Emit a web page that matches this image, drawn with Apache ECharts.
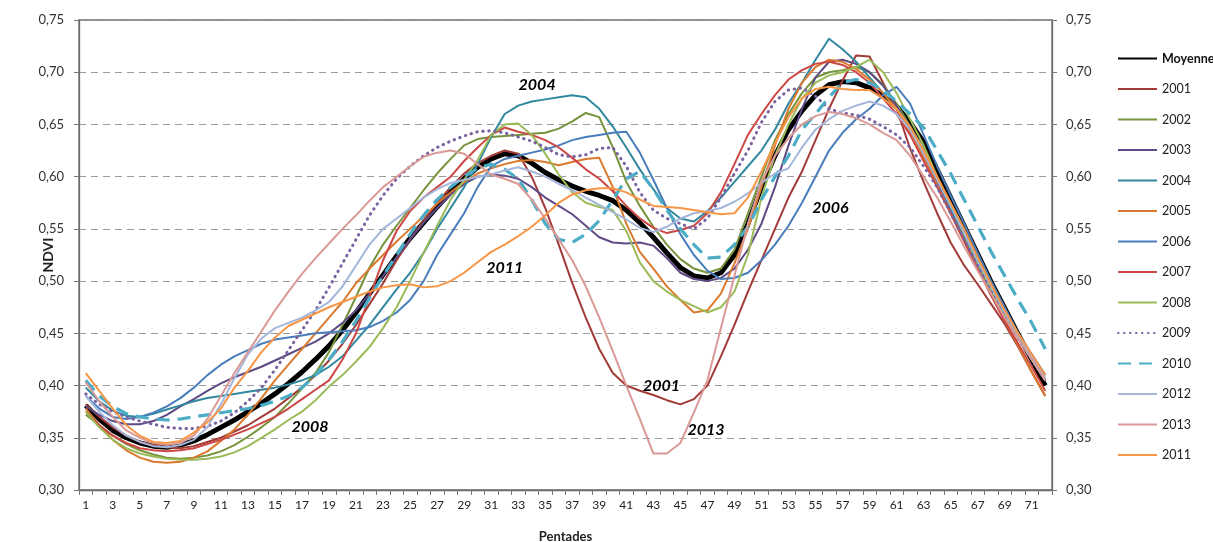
<!DOCTYPE html>
<html><head><meta charset="utf-8">
<script src="https://cdn.jsdelivr.net/npm/echarts@6/dist/echarts.min.js"></script>
<style>html,body{margin:0;padding:0;background:#fff}#c{width:1213px;height:542px}</style>
</head><body><div id="c"></div>
<script>
const pentades = ['1','2','3','4','5','6','7','8','9','10','11','12','13','14','15','16','17','18','19','20','21','22','23','24','25','26','27','28','29','30','31','32','33','34','35','36','37','38','39','40','41','42','43','44','45','46','47','48','49','50','51','52','53','54','55','56','57','58','59','60','61','62','63','64','65','66','67','68','69','70','71','72'];
const yTicks = [0.30,0.35,0.40,0.45,0.50,0.55,0.60,0.65,0.70,0.75];

const moyenne = [.381,.368,.357,.350,.345,.342,.341,.343,.347,.353,.360,.367,.375,.383,.392,.402,.413,.425,.438,.453,.470,.488,.506,.524,.541,.556,.571,.585,.598,.609,.617,.622,.620,.613,.604,.597,.591,.586,.582,.577,.568,.556,.542,.527,.513,.505,.503,.508,.525,.555,.590,.620,.645,.663,.678,.688,.691,.690,.685,.677,.667,.652,.633,.607,.580,.553,.526,.499,.474,.449,.425,.400];
const y2001 = [.382,.370,.360,.352,.346,.343,.341,.340,.342,.346,.350,.356,.362,.370,.378,.388,.398,.410,.424,.440,.458,.478,.498,.520,.540,.558,.575,.590,.603,.613,.620,.625,.622,.600,.570,.535,.498,.465,.435,.412,.400,.395,.391,.386,.382,.387,.400,.428,.458,.490,.520,.550,.580,.605,.635,.665,.692,.716,.715,.690,.665,.627,.595,.565,.537,.515,.497,.478,.459,.437,.413,.390];
const y2002 = [.372,.362,.352,.344,.338,.334,.331,.330,.331,.333,.337,.343,.351,.360,.370,.383,.397,.412,.432,.458,.485,.513,.535,.553,.570,.587,.603,.617,.630,.636,.638,.639,.640,.641,.642,.646,.653,.661,.657,.628,.595,.572,.552,.535,.521,.512,.508,.512,.530,.565,.600,.635,.660,.680,.695,.700,.702,.705,.700,.688,.670,.648,.623,.597,.570,.543,.517,.492,.467,.445,.425,.405];
const y2003 = [.380,.372,.366,.363,.363,.366,.372,.380,.387,.395,.402,.408,.413,.418,.424,.430,.436,.442,.450,.460,.472,.488,.505,.523,.540,.556,.570,.583,.593,.600,.602,.601,.598,.590,.580,.572,.564,.553,.542,.537,.536,.537,.534,.522,.508,.502,.500,.503,.512,.530,.555,.590,.630,.665,.695,.710,.712,.708,.700,.687,.668,.645,.620,.595,.568,.542,.517,.492,.468,.448,.430,.410];
const y2004 = [.398,.385,.376,.371,.370,.373,.377,.381,.385,.388,.390,.392,.394,.396,.398,.401,.405,.410,.418,.428,.443,.458,.475,.492,.508,.527,.550,.570,.590,.612,.638,.660,.668,.672,.674,.676,.678,.676,.665,.648,.628,.607,.588,.570,.560,.557,.567,.580,.595,.610,.625,.645,.670,.690,.712,.732,.722,.710,.695,.680,.665,.648,.625,.598,.570,.543,.517,.490,.466,.445,.425,.405];
const y2005 = [.378,.362,.348,.338,.331,.327,.326,.327,.331,.337,.347,.358,.372,.388,.405,.420,.435,.450,.465,.480,.498,.512,.525,.538,.550,.562,.574,.585,.595,.603,.608,.612,.615,.616,.614,.611,.614,.617,.618,.590,.555,.528,.512,.495,.482,.470,.472,.488,.517,.550,.590,.630,.665,.690,.705,.712,.710,.703,.693,.680,.665,.643,.618,.592,.565,.538,.512,.487,.462,.438,.413,.390];
const y2006 = [.390,.378,.370,.368,.370,.374,.380,.388,.398,.410,.420,.428,.434,.440,.444,.446,.448,.450,.451,.452,.453,.456,.462,.470,.482,.500,.525,.545,.565,.590,.610,.617,.620,.623,.626,.630,.635,.638,.640,.642,.643,.623,.597,.570,.545,.525,.510,.502,.503,.508,.520,.535,.553,.575,.600,.625,.642,.655,.665,.678,.686,.670,.640,.610,.582,.555,.527,.500,.475,.450,.430,.410];
const y2007 = [.375,.362,.352,.345,.340,.338,.337,.338,.340,.344,.348,.353,.358,.364,.370,.378,.387,.396,.405,.425,.450,.485,.520,.548,.567,.580,.590,.600,.615,.628,.640,.647,.643,.640,.635,.628,.618,.607,.598,.586,.572,.560,.551,.546,.549,.553,.565,.585,.612,.640,.660,.678,.693,.702,.708,.710,.707,.700,.690,.675,.660,.640,.615,.590,.565,.538,.512,.486,.462,.440,.418,.395];
const y2008 = [.375,.360,.348,.340,.335,.332,.330,.329,.329,.330,.332,.336,.342,.350,.358,.367,.375,.386,.399,.410,.423,.437,.455,.475,.500,.527,.553,.578,.597,.616,.640,.650,.651,.640,.622,.602,.585,.575,.571,.568,.548,.518,.500,.490,.482,.476,.470,.475,.490,.525,.580,.620,.650,.675,.690,.697,.700,.705,.712,.700,.680,.655,.630,.600,.573,.545,.518,.492,.467,.445,.425,.405];
const y2009 = [.392,.382,.375,.370,.366,.363,.360,.359,.359,.361,.366,.374,.385,.398,.415,.434,.453,.472,.494,.517,.540,.563,.582,.598,.610,.620,.628,.634,.639,.643,.644,.642,.638,.634,.628,.621,.619,.621,.627,.628,.610,.585,.568,.560,.555,.550,.560,.580,.603,.625,.652,.672,.683,.685,.677,.665,.661,.659,.655,.648,.640,.628,.610,.590,.565,.540,.515,.490,.467,.445,.425,.405];
const y2010 = [.405,.390,.380,.373,.370,.368,.367,.368,.370,.372,.374,.376,.378,.381,.385,.390,.398,.410,.425,.442,.462,.484,.505,.525,.545,.563,.578,.590,.600,.608,.612,.607,.598,.578,.555,.540,.537,.545,.558,.578,.598,.605,.588,.568,.550,.535,.522,.523,.535,.552,.578,.600,.620,.645,.660,.676,.690,.693,.690,.683,.672,.660,.647,.625,.603,.578,.553,.528,.505,.482,.460,.435];
const y2012 = [.390,.375,.362,.352,.346,.342,.341,.343,.348,.360,.382,.407,.430,.445,.455,.460,.465,.472,.480,.495,.515,.535,.550,.560,.570,.580,.588,.594,.597,.600,.602,.606,.609,.605,.600,.593,.587,.580,.573,.566,.559,.551,.547,.552,.560,.565,.567,.570,.576,.584,.594,.603,.608,.628,.645,.655,.663,.668,.672,.668,.660,.645,.622,.597,.572,.546,.520,.495,.470,.448,.428,.408];
const y2013 = [.403,.385,.370,.357,.350,.345,.343,.345,.352,.368,.390,.412,.432,.452,.472,.490,.507,.522,.536,.550,.563,.577,.590,.600,.610,.619,.623,.625,.622,.612,.602,.598,.593,.578,.560,.540,.520,.495,.465,.433,.400,.368,.335,.335,.345,.374,.405,.455,.505,.555,.595,.620,.637,.650,.658,.662,.660,.656,.650,.642,.635,.620,.600,.580,.557,.533,.510,.488,.465,.445,.425,.405];
const y2011 = [.412,.395,.378,.362,.352,.346,.345,.347,.355,.365,.378,.398,.414,.432,.446,.457,.463,.469,.475,.480,.485,.490,.494,.496,.497,.494,.495,.500,.508,.518,.528,.535,.543,.552,.563,.575,.583,.587,.589,.589,.585,.578,.572,.571,.570,.568,.566,.564,.565,.580,.605,.632,.657,.675,.684,.686,.684,.683,.683,.675,.665,.648,.625,.600,.575,.550,.523,.497,.472,.450,.430,.410];

const seriesNames = ['Moyenne','2001','2002','2003','2004','2005','2006','2007','2008','2009','2010','2012','2013','2011'];
const seriesValues = [moyenne,y2001,y2002,y2003,y2004,y2005,y2006,y2007,y2008,y2009,y2010,y2012,y2013,y2011];

// annotation texts anchored in data space (pentade, NDVI)
const annotText = ['2004','2011','2006','2001','2013','2008'];
const annotPentade = [34.4, 32.0, 56.1, 43.6, 46.9, 17.6];
const annotNdvi = [0.688, 0.513, 0.570, 0.400, 0.358, 0.360];

const styles = {
  'Moyenne':{color:'#000000', width:5, type:'solid'},
  '2001':{color:'#A23B38', width:2, type:'solid'},
  '2002':{color:'#77933C', width:2, type:'solid'},
  '2003':{color:'#5F4A85', width:2, type:'solid'},
  '2004':{color:'#31889F', width:2, type:'solid'},
  '2005':{color:'#DB7A2E', width:2, type:'solid'},
  '2006':{color:'#4A7EBB', width:2, type:'solid'},
  '2007':{color:'#CD4744', width:2, type:'solid'},
  '2008':{color:'#9BBB59', width:2, type:'solid'},
  '2009':{color:'#7A62A0', width:3, type:[0.5,5.5], cap:'round'},
  '2010':{color:'#4BACC6', width:3.2, type:[13,8]},
  '2012':{color:'#A4B6DA', width:2, type:'solid'},
  '2013':{color:'#D99A97', width:2, type:'solid'},
  '2011':{color:'#F79646', width:2, type:'solid'}
};

const font = 'Lato, "Open Sans", "DejaVu Sans", sans-serif';
const fmt = v => v.toFixed(2).replace('.', ',');

const series = seriesNames.map((name, i) => {
  const st = styles[name];
  return {
    name, type:'line', data: seriesValues[i], symbol:'none', showSymbol:false,
    smooth:false, animation:false, z: 2, xAxisIndex:0, yAxisIndex:0,
    lineStyle:{color:st.color, width:st.width, type:st.type, cap: st.cap || 'butt', join:'round'},
    itemStyle:{color:st.color}
  };
});

series.push({
  name:'annotations', type:'scatter', xAxisIndex:1, yAxisIndex:0, z:5,
  symbol:'circle', symbolSize:1, itemStyle:{color:'rgba(255,255,255,0)', opacity:1}, silent:true,
  data: annotText.map((t, k) => ({name:t, value:[annotPentade[k], annotNdvi[k]]})),
  label:{show:true, position:'inside', formatter: p => p.name, opacity:1,
    fontFamily: font, fontStyle:'italic', fontWeight:'bold', fontSize:16, color:'#000'}
});

const chart = echarts.init(document.getElementById('c'));
chart.setOption({
  animation:false,
  backgroundColor:'#fff',
  textStyle:{fontFamily:font},
  grid:{left:79, right:161, top:20, bottom:52, containLabel:false, outerBoundsMode:'none',
        show:true, borderColor:'#6b6b6b', borderWidth:1.3},
  legend:{
    orient:'vertical', left:1112, top:47, itemWidth:39, itemHeight:14, itemGap:17.5,
    data: seriesNames,
    itemStyle:{opacity:0, borderWidth:0},
    formatter: n => n === 'Moyenne' ? '{b|Moyenne}' : n,
    textStyle:{fontFamily:font, fontSize:12.5, color:'#222', rich:{b:{fontWeight:'bold', fontSize:12.5, fontFamily:font, color:'#111'}}}
  },
  xAxis:[{
    type:'category', data:pentades, boundaryGap:true,
    name:'Pentades', nameLocation:'middle', nameGap:40,
    nameTextStyle:{fontFamily:font, fontWeight:'bold', fontSize:13, color:'#222'},
    axisLine:{lineStyle:{color:'#6b6b6b', width:1.3}},
    axisTick:{show:true, interval:0, length:5, lineStyle:{color:'#777'}},
    axisLabel:{interval:1, margin:9, fontSize:12, color:'#222', fontFamily:font},
    splitLine:{show:false}
  },{
    type:'value', min:0.5, max:72.5, show:false, position:'bottom'
  }],
  yAxis:[{
    type:'value', min:0.30, max:0.75, interval:0.05,
    name:'NDVI', nameLocation:'middle', nameGap:24, nameRotate:90, nameMoveOverlap:false,
    nameTextStyle:{fontFamily:font, fontWeight:'bold', fontSize:14, color:'#222'},
    axisLine:{show:true, lineStyle:{color:'#6b6b6b', width:1.3}},
    axisTick:{show:true, length:5, lineStyle:{color:'#777'}},
    axisLabel:{formatter:fmt, margin:15, fontSize:13, color:'#333', fontFamily:font},
    splitLine:{show:true, lineStyle:{color:'#9a9a9a', type:[7,5], width:1}}
  },{
    type:'value', min:0.30, max:0.75, interval:0.05, position:'right',
    axisLine:{show:true, lineStyle:{color:'#6b6b6b', width:1.3}},
    axisTick:{show:true, length:5, lineStyle:{color:'#777'}},
    axisLabel:{formatter:fmt, margin:14, fontSize:13, color:'#333', fontFamily:font},
    splitLine:{show:false}
  }],
  series
});
</script>
</body></html>
